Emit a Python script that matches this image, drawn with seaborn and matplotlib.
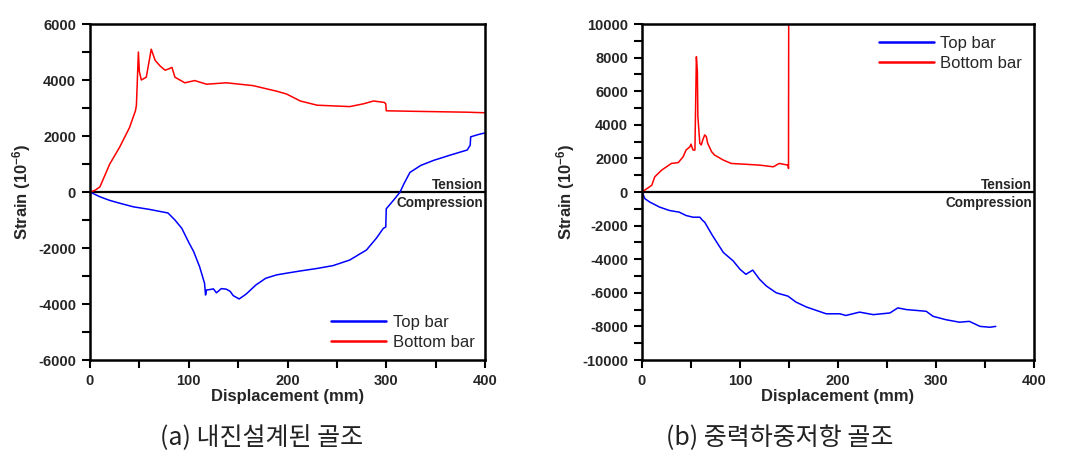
import matplotlib
matplotlib.use("Agg")
import matplotlib.pyplot as plt
import seaborn as sns
import numpy as np

# ---------------- data ----------------
# (a) seismically designed frame
a_top_x = [0, 10, 20, 30, 44, 60, 79, 86, 93, 100, 105, 111, 116, 117, 118, 122, 125, 128, 133, 138,
           142, 145, 151, 158, 168, 178, 189, 199, 213, 230, 246, 263, 280, 290, 297, 299.5, 300,
           306, 310, 314, 318, 324, 335, 348, 365, 382, 385, 385.5, 393, 400]
a_top_y = [0, -170, -300, -400, -530, -620, -750, -1000, -1300, -1800, -2130, -2670, -3260, -3680, -3500,
           -3480, -3460, -3600, -3450, -3470, -3550, -3700, -3820, -3650, -3320, -3080, -2960, -2900,
           -2820, -2730, -2630, -2430, -2070, -1650, -1300, -1250, -600,
           -350, -180, 0, 300, 700, 950, 1130, 1320, 1500, 1670, 1970, 2050, 2110]
a_bot_x = [0, 5, 10, 20, 30, 40, 44, 46, 47, 49, 50, 52, 57, 60, 62, 66, 71, 76, 80, 83, 86, 91, 96,
           106, 118, 138, 165, 189, 199, 213, 230, 263, 277, 287, 298, 299.5, 300, 331, 382, 400]
a_bot_y = [0, 60, 180, 1000, 1600, 2300, 2700, 2900, 3100, 5000, 4300, 4000, 4100, 4700, 5100, 4700,
           4500, 4350, 4400, 4450, 4100, 4000, 3900, 3980, 3850, 3900, 3800, 3600, 3500, 3250, 3100,
           3050, 3150, 3250, 3200, 3150, 2900, 2880, 2850, 2830]

# (b) gravity-load-resisting frame
b_top_x = [0, 3, 8, 18, 28, 38, 45, 52, 59, 62, 64, 69, 72, 83, 93, 100, 106, 113, 120, 127, 137,
           149, 157, 168, 178, 188, 202, 208, 222, 236, 253, 261, 270, 280, 290, 297, 310, 324, 334,
           345, 355, 361]
b_top_y = [0, -400, -600, -900, -1100, -1200, -1400, -1500, -1500, -1700, -1800, -2300, -2600,
           -3600, -4100, -4600, -4900, -4650, -5200, -5600, -6000, -6200, -6550, -6850, -7050, -7250,
           -7250, -7350, -7150, -7300, -7200, -6900, -7000, -7050, -7100, -7400, -7600, -7750, -7700,
           -8000, -8050, -8000]
b_bot_x = [0, 10, 13, 20, 25, 30, 37, 42, 45, 49, 50, 52, 54, 55.5, 56.5, 57, 59, 60.5, 62, 64,
           65.6, 67, 71, 74, 83, 91, 106, 120, 134, 140, 149, 149.5, 149.7]
b_bot_y = [0, 400, 900, 1300, 1500, 1700, 1750, 2100, 2500, 2700, 2850, 2500, 2500, 8050, 7150,
           4500, 2900, 2800, 3100, 3400, 3300, 2900, 2400, 2200, 1900, 1700, 1650, 1600, 1500, 1700,
           1600, 1400, 10500]

x_ticks = [0, 100, 200, 300, 400]
a_yticks = [-6000, -4000, -2000, 0, 2000, 4000, 6000]
b_yticks = [-10000, -8000, -6000, -4000, -2000, 0, 2000, 4000, 6000, 8000, 10000]
series_labels = ["Top bar", "Bottom bar"]
captions = ["(a) 내진설계된 골조", "(b) 중력하중저항 골조"]

# ---------------- style ----------------
sns.set_theme(style="ticks")
plt.rcParams['font.family'] = ['Liberation Sans', 'DejaVu Sans']
plt.rcParams['font.weight'] = 'bold'
plt.rcParams['axes.unicode_minus'] = False
plt.rcParams['mathtext.fontset'] = 'custom'
plt.rcParams['mathtext.rm'] = 'Liberation Sans:bold'
plt.rcParams['mathtext.bf'] = 'Liberation Sans:bold'
plt.rcParams['mathtext.default'] = 'bf'

fig = plt.figure(figsize=(10.66, 4.59), dpi=100)
ax1 = fig.add_axes([90/1066, 99/459, 395/1066, 336/459])
ax2 = fig.add_axes([642/1066, 99/459, 392/1066, 336/459])

BLUE = "#0000ff"
RED = "#ff0000"

def style_axes(ax, yticks, ylim, minor_step):
    ax.set_xlim(0, 400)
    ax.set_ylim(*ylim)
    ax.set_xticks(x_ticks)
    ax.set_xticks([50, 150, 250, 350], minor=True)
    ax.set_yticks(yticks)
    ax.set_yticks(np.arange(ylim[0], ylim[1] + 1, minor_step), minor=True)
    ax.tick_params(axis='both', which='major', direction='out', length=6, width=1.5,
                   labelsize=10.5, top=False, right=False, color='black', pad=4)
    ax.tick_params(axis='both', which='minor', direction='out', length=6, width=1.5,
                   top=False, right=False, color='black')
    for lab in ax.get_xticklabels() + ax.get_yticklabels():
        lab.set_fontweight('bold')
    for s in ax.spines.values():
        s.set_linewidth(1.8)
        s.set_color('black')
    ax.axhline(0, color='black', lw=1.6, zorder=1)
    ax.set_xlabel("Displacement (mm)", fontsize=12, fontweight='bold', labelpad=1)
    ax.set_ylabel(r"Strain (10$^{-6}$)", fontsize=12, fontweight='bold', labelpad=4)
    ax.text(398, 0, "Tension", ha='right', va='bottom', fontsize=9.8, fontweight='bold')
    ax.text(398, -(ylim[1] - ylim[0]) * 0.012, "Compression", ha='right', va='top',
            fontsize=9.8, fontweight='bold')

sns.lineplot(x=a_top_x, y=a_top_y, ax=ax1, color=BLUE, lw=1.1, sort=False, estimator=None,
             label=series_labels[0])
sns.lineplot(x=a_bot_x, y=a_bot_y, ax=ax1, color=RED, lw=1.1, sort=False, estimator=None,
             label=series_labels[1])
sns.lineplot(x=b_top_x, y=b_top_y, ax=ax2, color=BLUE, lw=1.1, sort=False, estimator=None,
             label=series_labels[0])
sns.lineplot(x=b_bot_x, y=b_bot_y, ax=ax2, color=RED, lw=1.1, sort=False, estimator=None,
             label=series_labels[1])

style_axes(ax1, a_yticks, (-6000, 6000), 1000)
style_axes(ax2, b_yticks, (-10000, 10000), 1000)

leg1 = ax1.legend(loc='lower right', frameon=False, fontsize=12, handlelength=3.3,
                  handletextpad=0.4, labelspacing=0.3, borderaxespad=0.2)
leg2 = ax2.legend(loc='upper right', frameon=False, fontsize=12, handlelength=3.3,
                  handletextpad=0.4, labelspacing=0.3, borderaxespad=0.3)
for leg in (leg1, leg2):
    for t in leg.get_texts():
        t.set_fontweight('normal')
    for l in leg.get_lines():
        l.set_linewidth(1.8)

cap_font = ['Noto Sans CJK KR', 'DejaVu Sans']
fig.text(262/1066, 1 - 438/459, captions[0], ha='center', va='center', fontsize=18,
         family=cap_font, fontweight='light', color='#222222')
fig.text(780/1066, 1 - 438/459, captions[1], ha='center', va='center', fontsize=18,
         family=cap_font, fontweight='light', color='#222222')

fig.savefig("out.png", dpi=100)
